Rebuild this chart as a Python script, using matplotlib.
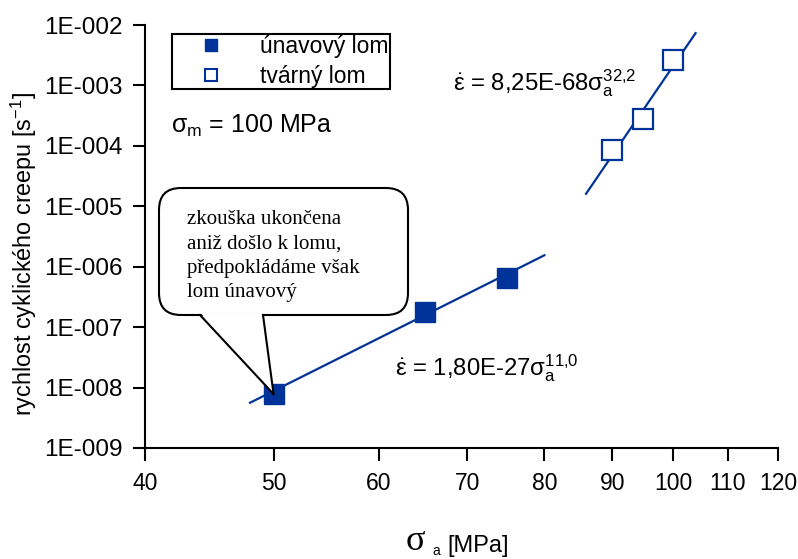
import numpy as np
import matplotlib.pyplot as plt
from matplotlib.patches import FancyBboxPatch, Polygon
from matplotlib.lines import Line2D
from matplotlib.ticker import FixedLocator, NullLocator
from matplotlib.transforms import IdentityTransform

plt.rcParams['font.family'] = ['Liberation Sans', 'DejaVu Sans']
plt.rcParams['mathtext.fontset'] = 'custom'
plt.rcParams['mathtext.rm'] = 'Liberation Sans'
plt.rcParams['mathtext.it'] = 'Liberation Sans:italic'
plt.rcParams['mathtext.default'] = 'regular'

BLUE = '#003399'
W, H = 798, 559

# measured points (stress amplitude [MPa], creep rate [1/s])
fatigue_stress = [50, 65, 75]
fatigue_rate = [7.8e-9, 1.8e-7, 6.5e-7]
ductile_stress = [90, 95, 100]
ductile_rate = [8.5e-5, 2.8e-4, 2.6e-3]

# power-law fits: rate = C * sigma_a ** n
fatigue_fit = (1.80e-27, 11.0)
ductile_fit = (8.25e-68, 32.2)
fatigue_fit_range = [48, 80]
ductile_fit_range = [86, 104]

x_ticks = [40, 50, 60, 70, 80, 90, 100, 110, 120]
y_exponents = [-9, -8, -7, -6, -5, -4, -3, -2]
legend_labels = ['únavový lom', 'tvárný lom']
note_lines = ['zkouška ukončena', 'aniž došlo k lomu,',
              'předpokládáme však', 'lom únavový']


def fx(px):
    return px / W


def fy(py):
    return 1 - py / H


fig = plt.figure(figsize=(W / 100, H / 100), dpi=100)
ax = fig.add_axes([fx(145), fy(448), (778 - 145) / W, (448 - 25) / H])

ax.set_xscale('log')
ax.set_yscale('log')
ax.set_xlim(40, 120)
ax.set_ylim(1e-9, 1e-2)

# fit lines
for (c, n), rng in [(fatigue_fit, fatigue_fit_range), (ductile_fit, ductile_fit_range)]:
    xs = np.array(rng, dtype=float)
    ax.plot(xs, c * xs ** n, color=BLUE, lw=1.6, zorder=2)

ax.plot(fatigue_stress, fatigue_rate, ls='none', marker='s', ms=14.5,
        color=BLUE, mec=BLUE, mew=1, zorder=3)
ax.plot(ductile_stress, ductile_rate, ls='none', marker='s', ms=14,
        mfc='white', mec=BLUE, mew=1.6, zorder=3)

# axes styling
for side in ['top', 'right']:
    ax.spines[side].set_visible(False)
for side in ['left', 'bottom']:
    ax.spines[side].set_linewidth(1.5)
ax.xaxis.set_major_locator(FixedLocator(x_ticks))
ax.xaxis.set_minor_locator(NullLocator())
ax.set_xticklabels([str(t) for t in x_ticks])
ax.yaxis.set_major_locator(FixedLocator([10.0 ** e for e in y_exponents]))
ax.yaxis.set_minor_locator(NullLocator())
ax.set_yticklabels([f'1E-{abs(e):03d}' for e in y_exponents])
ax.tick_params(direction='out', length=9, width=1.5)
ax.tick_params(axis='x', labelsize=16.5, pad=8)
ax.tick_params(axis='y', labelsize=17.5, pad=7)

# axis titles
fig.text(fx(24), fy(254), 'rychlost cyklického creepu [s$^{-1}$]',
         rotation=90, ha='center', va='center', fontsize=16.8)
fig.text(fx(406), fy(550), 'σ', family='Liberation Serif', fontsize=26, va='baseline')
fig.text(fx(432), fy(555), 'a', fontsize=10, va='baseline')
fig.text(fx(447), fy(552), '[MPa]', fontsize=17, va='baseline')

# legend
handles = [Line2D([], [], ls='none', marker='s', ms=9, color=BLUE),
           Line2D([], [], ls='none', marker='s', ms=9, mfc='white', mec=BLUE, mew=1.5)]
leg = ax.legend(handles, legend_labels, loc='upper left',
                bbox_to_anchor=(fx(172), fy(34)), bbox_transform=fig.transFigure,
                frameon=True, fancybox=False, edgecolor='black', framealpha=1,
                fontsize=16.5, borderpad=0.05, handlelength=3.3, handletextpad=0.5,
                labelspacing=0.28, borderaxespad=0)
leg.get_frame().set_linewidth(1.5)

# annotations
fig.text(fx(171), fy(133), r'$\sigma_m$ = 100 MPa', fontsize=18, va='baseline')
fig.text(fx(453), fy(90), r'$\dot{\varepsilon}$ = 8,25E-68$\sigma_a^{32{,}2}$',
         fontsize=17.2, va='baseline')
fig.text(fx(395), fy(375), r'$\dot{\varepsilon}$ = 1,80E-27$\sigma_a^{11{,}0}$',
         fontsize=17.2, va='baseline')

# callout pointing to the unbroken specimen
px = IdentityTransform()
box_l, box_r, box_t, box_b = 159, 408, 188, 315
box = FancyBboxPatch((box_l, H - box_b), box_r - box_l, box_b - box_t,
                     boxstyle='round,pad=0,rounding_size=22',
                     fc='white', ec='black', lw=1.5, transform=px, zorder=10)
fig.add_artist(box)
tip = ax.transData.transform((fatigue_stress[0], fatigue_rate[0]))
base = [(200, H - box_b), (263, H - box_b)]
wedge = Polygon([(base[0][0] + 1, base[0][1] + 1.5), (base[1][0] - 1, base[1][1] + 1.5), tuple(tip)],
                closed=True, fc='white', ec='none', transform=px, zorder=11)
fig.add_artist(wedge)
for b in base:
    fig.add_artist(Line2D([b[0], tip[0]], [b[1], tip[1]], color='black', lw=1.5,
                          transform=px, zorder=12))
for i, line in enumerate(note_lines):
    fig.text(fx(187), fy(224 + 24.5 * i), line, family='Liberation Serif',
             fontsize=15, va='baseline', zorder=13)

fig.savefig('out.png', dpi=100)
